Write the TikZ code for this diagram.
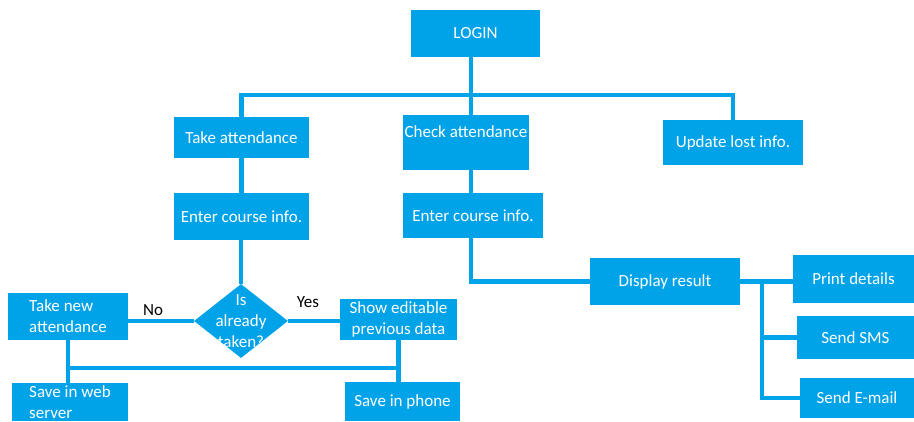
\documentclass[tikz,border=0pt]{standalone}
\usepackage{fontspec}
\setmainfont{Carlito}
\usepackage{xcolor}
\usetikzlibrary{shapes.geometric}
\definecolor{flowblue}{RGB}{0,162,232}

\begin{document}
\begin{tikzpicture}[x=1pt,y=1pt,yscale=-1,xscale=1,
  box/.style={fill=flowblue,draw=none,text=white,inner sep=0pt,align=center,font=\fontsize{17}{21}\selectfont},
  decbox/.style={diamond,fill=flowblue,draw=none,inner sep=0pt,minimum width=94,minimum height=74},
  conn/.style={draw=flowblue,line width=4.5},
  yesno/.style={text=black,inner sep=0pt,font=\fontsize{17}{21}\selectfont}]
\useasboundingbox (0,0) rectangle (914,421);

% Text Node
\node[box,minimum width=129,minimum height=47] (login) at (475.5,33.5) {LOGIN};
% Text Node
\node[box,minimum width=135,minimum height=41] (take) at (241.5,137.5) {Take attendance};
% Text Node
\node[box,minimum width=126,minimum height=55,text depth=21] (check) at (466,142.5) {Check attendance};
% Text Node
\node[box,minimum width=140,minimum height=45] (upd) at (733,142.5) {Update lost info.};
% Text Node
\node[box,minimum width=135,minimum height=47] (enterA) at (241.5,216.5) {Enter course info.};
% Text Node
\node[box,minimum width=140,minimum height=45] (enterB) at (473,215.5) {Enter course info.};
% Text Node
\node[box,minimum width=150,minimum height=47] (disp) at (665,281.5) {Display result};
% Text Node
\node[box,minimum width=121,minimum height=48] (print) at (853.5,279) {Print details};
% Text Node
\node[box,minimum width=117,minimum height=43] (sms) at (855.5,337.5) {Send SMS};
% Text Node
\node[box,minimum width=114,minimum height=40] (email) at (857,398) {Send E-mail};

% Decision
\node[decbox] (decide) at (241,321) {};
\node[box,fill=none] (decidetxt) at (decide.center) {Is\\already\\taken?};
% Text Node
\node[box,minimum width=120,minimum height=47,align=left] (newatt) at (68,316.5) {Take new\\attendance};
% Text Node
\node[box,minimum width=117,minimum height=41] (showed) at (398.5,319.5) {Show editable\\previous data};
% Text Node
\node[box,minimum width=116,minimum height=38,align=left] (web) at (70,402) {Save in web\\server};
% Text Node
\node[box,minimum width=115,minimum height=39] (phone) at (402.5,401.5) {Save in phone};

% Text Node
\node[yesno] (no) at (153,310) {No};
\node[yesno] (yes) at (308,302) {Yes};

%Straight Lines
\coordinate (bus) at (471,95);
\coordinate (lowbus) at (230,368);
\coordinate (split) at (762,283);
\draw[conn] (login.south -| bus) -- (check.north -| bus);
\draw[conn] (take.north) |- (bus) -| (upd.north);
\draw[conn] (take.south) -- (enterA.north);
\draw[conn] (check.south -| bus) -- (enterB.north -| bus);
\draw[conn] (enterB.south -| bus) |- (disp.west);
\draw[conn] (disp.east) -- (disp.east -| print.west);
\draw[conn] (split) |- (email.west);
\draw[conn] (split |- sms.west) -- (sms.west);
\draw[conn] (enterA.south -| decide.north) -- (decide.north);
\draw[conn] (decide.west) -- (decide.west -| newatt.east);
\draw[conn] (decide.east) -- (decide.east -| showed.west);
\draw[conn] (newatt.south) -- (newatt.south |- web.north);
\draw[conn] (showed.south) -- (showed.south |- phone.north);
\draw[conn] (newatt.south |- lowbus) -- (showed.south |- lowbus);

\end{tikzpicture}
\end{document}
